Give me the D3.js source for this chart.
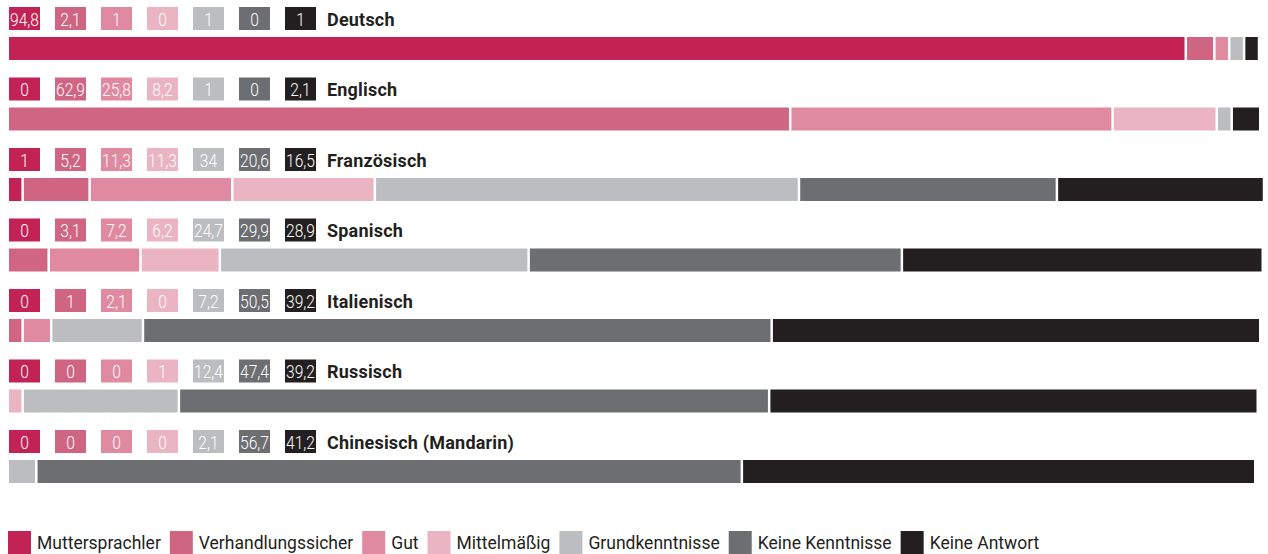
<!DOCTYPE html>
<html lang="de">
<head>
  <meta charset="UTF-8">
  <title>Sprachkenntnisse</title>
  <style>
    body {
      margin: 0;
      background: #fff;
      overflow: hidden;
    }
    .box-text {
      font-family: "Roboto", sans-serif;
      font-weight: 300;
      font-size: 19px;
      fill: #fff;
    }
    .lang {
      font-family: "Roboto", sans-serif;
      font-weight: 700;
      font-size: 18px;
      letter-spacing: 0.2px;
      fill: #231f20;
    }
    .legend text {
      font-family: "Roboto", sans-serif;
      font-size: 17.5px;
      fill: #231f20;
    }
  </style>
</head>
<body>
  <svg width="1268" height="554"></svg>

  <script src="https://d3js.org/d3.v7.min.js"></script>
  <script>
    const languages = ["Deutsch", "Englisch", "Französisch", "Spanisch", "Italienisch", "Russisch", "Chinesisch (Mandarin)"];
    const levels = ["Muttersprachler", "Verhandlungssicher", "Gut", "Mittelmäßig", "Grundkenntnisse", "Keine Kenntnisse", "Keine Antwort"];
    const colors = ["#c22354", "#cf6583", "#df8aa0", "#ebb4c2", "#bcbdc1", "#6d6e72", "#231f20"];

    // values per language, in the order of levels (percent)
    const deutsch     = [94.8, 2.1, 1, 0, 1, 0, 1];
    const englisch    = [0, 62.9, 25.8, 8.2, 1, 0, 2.1];
    const franzoesisch = [1, 5.2, 11.3, 11.3, 34, 20.6, 16.5];
    const spanisch    = [0, 3.1, 7.2, 6.2, 24.7, 29.9, 28.9];
    const italienisch = [0, 1, 2.1, 0, 7.2, 50.5, 39.2];
    const russisch    = [0, 0, 0, 1, 12.4, 47.4, 39.2];
    const chinesisch  = [0, 0, 0, 0, 2.1, 56.7, 41.2];

    const values = [deutsch, englisch, franzoesisch, spanisch, italienisch, russisch, chinesisch];

    const svg = d3.select("svg");
    const left = 9;
    const gap = 2.5;

    const color = d3.scaleOrdinal().domain(levels).range(colors);
    const x = d3.scaleLinear().domain([0, 100]).range([0, 1240]);
    const y = d3.scaleBand().domain(languages).range([7, 7 + 70.5 * languages.length]);
    const boxX = d3.scalePoint().domain(levels).range([left, left + 46 * 6]);

    const fmt = v => String(v).replace(".", ",");

    const rows = svg.selectAll("g.row")
      .data(languages.map((name, i) => ({ name, vals: values[i] })))
      .join("g")
      .attr("class", "row")
      .attr("transform", d => `translate(0,${y(d.name)})`);

    // value boxes
    rows.selectAll("rect.box")
      .data(d => d.vals.map((v, i) => ({ v, level: levels[i] })))
      .join("rect")
      .attr("class", "box")
      .attr("x", d => boxX(d.level))
      .attr("y", 0)
      .attr("width", 31)
      .attr("height", 23)
      .attr("fill", d => color(d.level));

    // narrow the number text so it fits the boxes like the condensed original
    rows.selectAll("text.box-text")
      .data(d => d.vals.map((v, i) => ({ v, level: levels[i] })))
      .join("text")
      .attr("class", "box-text")
      .attr("transform", d => `translate(${boxX(d.level) + 15.5},18.5) scale(0.82,1)`)
      .attr("text-anchor", "middle")
      .text(d => fmt(d.v));

    rows.append("text")
      .attr("class", "lang")
      .attr("x", boxX(levels[6]) + 42)
      .attr("y", 18.5)
      .text(d => d.name);

    // stacked bar, zero segments skipped, small gap between segments
    rows.each(function (d) {
      const segs = [];
      let pos = left;
      d.vals.forEach((v, i) => {
        if (v <= 0) return;
        segs.push({ x: pos, w: x(v), level: levels[i] });
        pos += x(v) + gap;
      });
      d3.select(this).selectAll("rect.seg")
        .data(segs)
        .join("rect")
        .attr("class", "seg")
        .attr("x", s => s.x)
        .attr("y", 30)
        .attr("width", s => s.w)
        .attr("height", 23)
        .attr("fill", s => color(s.level));
    });

    // legend
    const legend = svg.append("g").attr("class", "legend").attr("transform", "translate(8,531)");
    let lx = 0;
    levels.forEach(l => {
      const g = legend.append("g").attr("transform", `translate(${lx},0)`);
      g.append("rect").attr("width", 23).attr("height", 23).attr("fill", color(l));
      const t = g.append("text").attr("x", 29).attr("y", 18).text(l);
      lx += 29 + t.node().getComputedTextLength() + 9;
    });
  </script>
</body>
</html>
